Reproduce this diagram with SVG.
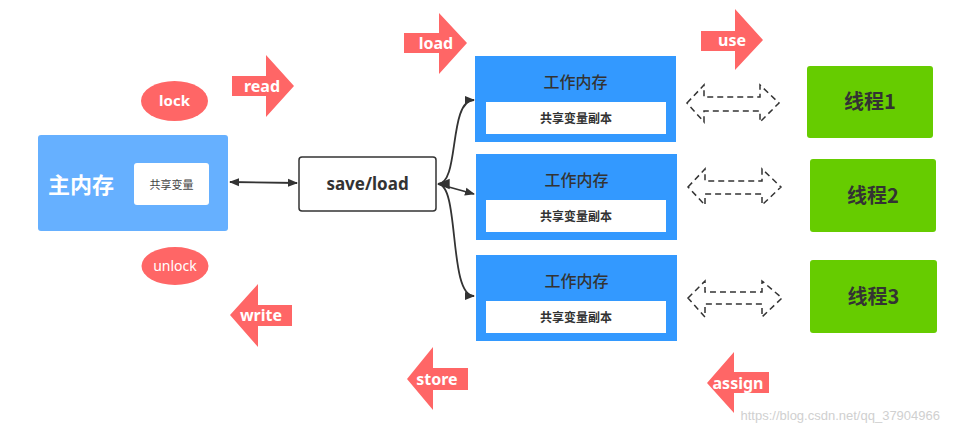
<svg xmlns="http://www.w3.org/2000/svg" width="954" height="436" viewBox="0 0 954 436">
<style>
.cn{font-family:"Noto Sans CJK SC","Noto Sans",sans-serif}
.lbl{font-family:"Noto Sans","Open Sans",sans-serif;font-weight:bold;fill:#fff;font-size:16px;text-anchor:middle}
.red{fill:#ff6666}
.wm{fill:#3399ff}
.inner{fill:#fff}
.thread{fill:#66cc00}
.tt{font-family:"Noto Sans CJK SC",sans-serif;font-weight:bold;font-size:20px;fill:#333;text-anchor:middle}
.dash{fill:none;stroke:#333;stroke-width:1.5;stroke-dasharray:6 4}
.conn{fill:none;stroke:#333;stroke-width:1.8}
</style>
<defs>
<marker id="ah" viewBox="0 0 10 10" refX="9" refY="5" markerWidth="10" markerHeight="10" orient="auto-start-reverse" markerUnits="userSpaceOnUse">
<path d="M0,1 L10,5 L0,9 z" fill="#333"/>
</marker>
<marker id="ahb" viewBox="0 0 10 10" refX="9" refY="5" markerWidth="13" markerHeight="13" orient="auto-start-reverse" markerUnits="userSpaceOnUse">
<path d="M0,1 L10,5 L0,9 z" fill="#333"/>
</marker>
</defs>
<rect width="954" height="436" fill="#fff"/>

<g id="main-memory">
<rect x="38" y="135" width="190" height="96" rx="3" fill="#66b0ff"/>
<text x="81" y="193" class="cn" font-size="22" font-weight="bold" fill="#fff" text-anchor="middle">主内存</text>
<rect x="134" y="163" width="75" height="42" rx="3" class="inner"/>
<text x="171.5" y="188.5" class="cn" font-size="11" fill="#444" text-anchor="middle">共享变量</text>
</g>

<g id="lock">
<ellipse cx="174.5" cy="101" rx="33.5" ry="20" class="red"/>
<text x="174.5" y="106" class="lbl" style="font-size:15px">lock</text>
</g>
<g id="unlock">
<ellipse cx="175" cy="266" rx="33.5" ry="19" class="red"/>
<text x="175" y="271" class="lbl" style="font-size:14px;font-weight:normal">unlock</text>
</g>

<g id="read">
<path d="M232,76 L266,76 L266,55 L294,86 L266,117 L266,96 L232,96 z" class="red"/>
<text x="262" y="92" class="lbl">read</text>
</g>
<g id="write">
<path d="M292,305 L258,305 L258,284 L230,315 L258,347 L258,326 L292,326 z" class="red"/>
<text x="261" y="321" class="lbl">write</text>
</g>
<g id="load">
<path d="M404,33 L439,33 L439,13 L467,43 L439,74 L439,53 L404,53 z" class="red"/>
<text x="436" y="49" class="lbl">load</text>
</g>
<g id="use">
<path d="M701,31 L735,31 L735,9 L763,40 L735,70 L735,51 L701,51 z" class="red"/>
<text x="732" y="46" class="lbl">use</text>
</g>
<g id="store">
<path d="M468,368 L433,368 L433,347 L407,379 L433,410 L433,390 L468,390 z" class="red"/>
<text x="437" y="385" class="lbl">store</text>
</g>
<g id="assign">
<path d="M769,372 L734,372 L734,352 L707,383 L734,413 L734,393 L769,393 z" class="red"/>
<text x="738" y="389" class="lbl">assign</text>
</g>

<g id="save-load">
<rect x="299" y="157" width="137" height="54" rx="3" fill="#fff" stroke="#333" stroke-width="1.5"/>
<text x="367.5" y="190" font-family="Noto Sans,Open Sans,sans-serif" font-weight="bold" font-size="17" fill="#333" text-anchor="middle">save/load</text>
</g>

<g id="work-memory-1">
<rect x="475" y="56" width="201" height="86" class="wm"/>
<text x="575.5" y="88" class="cn" font-size="16" font-weight="500" fill="#333" text-anchor="middle">工作内存</text>
<rect x="486" y="102" width="180" height="32" class="inner"/>
<text x="576" y="123" class="cn" font-size="12" font-weight="bold" fill="#333" text-anchor="middle">共享变量副本</text>
</g>
<g id="work-memory-2">
<rect x="476" y="154" width="201" height="86" class="wm"/>
<text x="576.5" y="186" class="cn" font-size="16" font-weight="500" fill="#333" text-anchor="middle">工作内存</text>
<rect x="486" y="200" width="180" height="32" class="inner"/>
<text x="576" y="221" class="cn" font-size="12" font-weight="bold" fill="#333" text-anchor="middle">共享变量副本</text>
</g>
<g id="work-memory-3">
<rect x="476" y="255" width="201" height="86" class="wm"/>
<text x="576.5" y="287" class="cn" font-size="16" font-weight="500" fill="#333" text-anchor="middle">工作内存</text>
<rect x="486" y="301" width="180" height="32" class="inner"/>
<text x="576" y="322" class="cn" font-size="12" font-weight="bold" fill="#333" text-anchor="middle">共享变量副本</text>
</g>

<g id="thread-1">
<rect x="807" y="66" width="126" height="72" rx="3" class="thread"/>
<text x="870" y="109" class="tt">线程1</text>
</g>
<g id="thread-2">
<rect x="810" y="159" width="126" height="73" rx="3" class="thread"/>
<text x="873" y="203" class="tt">线程2</text>
</g>
<g id="thread-3">
<rect x="810" y="260" width="127" height="73" rx="3" class="thread"/>
<text x="873.5" y="304" class="tt">线程3</text>
</g>

<g id="connectors">
<line x1="230" y1="182" x2="297" y2="183" class="conn" marker-start="url(#ah)" marker-end="url(#ah)"/>
<path d="M438,184 C460,184 448,100 474,100" class="conn" marker-start="url(#ahb)" marker-end="url(#ah)"/>
<path d="M438,184 L474,194" class="conn" marker-end="url(#ah)"/>
<path d="M438,184 C460,184 448,296 474,296" class="conn" marker-end="url(#ah)"/>
<path d="M687,103 L704,85 L704,97 L760,97 L760,85 L779,103 L760,122 L760,111 L704,111 L704,122 z" class="dash"/>
<path d="M688,187 L705,169 L705,181 L762,181 L762,169 L781,187 L762,205 L762,194 L705,194 L705,205 z" class="dash"/>
<path d="M688,298 L705,281 L705,292 L762,292 L762,281 L782,298 L762,317 L762,304 L705,304 L705,317 z" class="dash"/>
</g>

<text x="940" y="420" font-family="Liberation Sans,Arial,sans-serif" font-size="13" fill="#d0d0d0" text-anchor="end">https://blog.csdn.net/qq_37904966</text>
</svg>
